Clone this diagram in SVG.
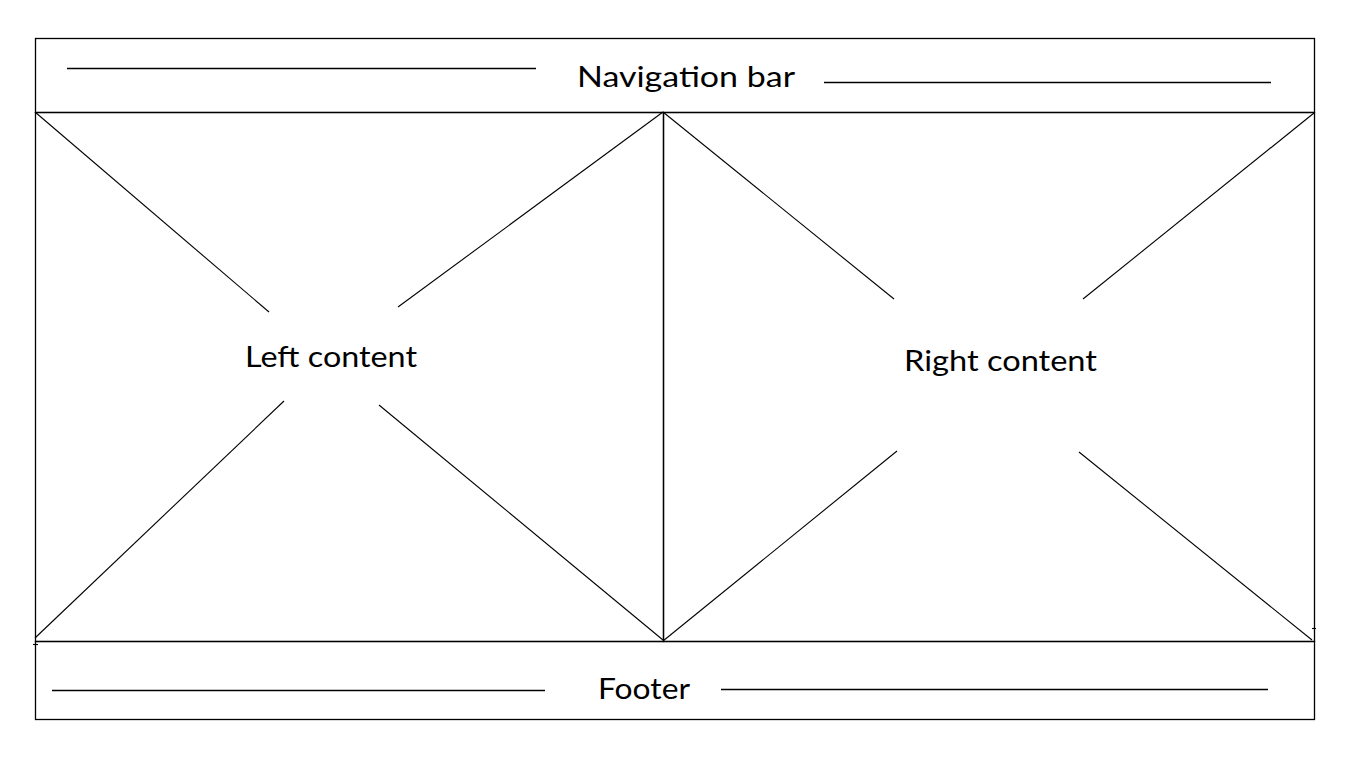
<svg xmlns="http://www.w3.org/2000/svg" width="1349" height="758" viewBox="0 0 1349 758">
  <style>
    .frame { fill: none; stroke: #000; stroke-width: 1.3; }
    .line { stroke: #000; stroke-width: 1.1; fill: none; }
    .rule { stroke: #000; stroke-width: 1.4; }
    .label { font-family: "Lato", "Open Sans", "Liberation Sans", sans-serif; font-size: 29px; fill: #000; }
  </style>
  <rect width="1349" height="758" fill="#fff"/>

  <g id="nav-bar">
    <rect class="frame" x="35.5" y="38.5" width="1279" height="74"/>
    <line class="rule" x1="67" y1="68.5" x2="536" y2="68.5"/>
    <line class="rule" x1="824" y1="82.5" x2="1271" y2="82.5"/>
    <text class="label" x="577" y="87" textLength="218" lengthAdjust="spacingAndGlyphs">Navigation bar</text>
  </g>

  <g id="left-content">
    <rect class="frame" x="35.5" y="112.5" width="628" height="529"/>
    <text class="label" x="245" y="367" textLength="172" lengthAdjust="spacingAndGlyphs">Left content</text>
  </g>

  <g id="right-content">
    <rect class="frame" x="663.5" y="112.5" width="651" height="529"/>
    <text class="label" x="904" y="371" textLength="193" lengthAdjust="spacingAndGlyphs">Right content</text>
  </g>

  <g id="footer">
    <rect class="frame" x="35.5" y="641.5" width="1279" height="78"/>
    <line class="rule" x1="52" y1="690.5" x2="545" y2="690.5"/>
    <line class="rule" x1="721" y1="689.5" x2="1268" y2="689.5"/>
    <text class="label" x="598" y="699" textLength="92" lengthAdjust="spacingAndGlyphs">Footer</text>
  </g>

  <g id="connectors">
    <!-- left panel placeholder cross -->
    <line class="line" x1="35" y1="112" x2="269" y2="312"/>
    <line class="line" x1="663" y1="112" x2="398" y2="307"/>
    <line class="line" x1="284" y1="401" x2="35" y2="638"/>
    <line class="line" x1="379" y1="405" x2="663" y2="640"/>
    <!-- right panel placeholder cross -->
    <line class="line" x1="663" y1="112" x2="894" y2="299"/>
    <line class="line" x1="1314" y1="113" x2="1083" y2="299"/>
    <line class="line" x1="897" y1="451" x2="663" y2="641"/>
    <line class="line" x1="1079" y1="452" x2="1312" y2="640"/>
    <!-- small corner ticks -->
    <line class="line" x1="33" y1="644.5" x2="38" y2="644.5"/>
    <line class="line" x1="1312" y1="628.5" x2="1316" y2="628.5"/>
  </g>
</svg>
